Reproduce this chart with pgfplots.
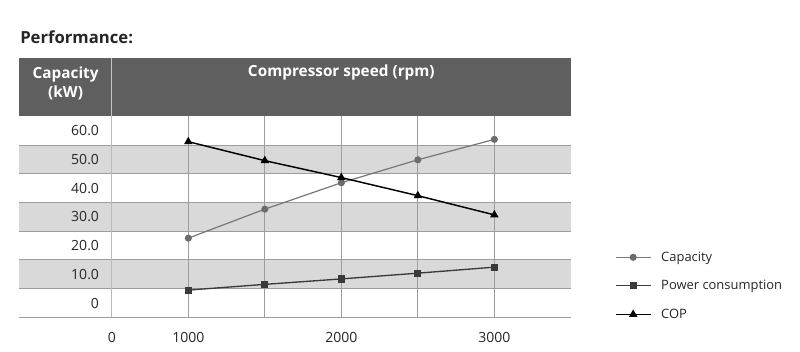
\documentclass[border=0pt]{standalone}
\usepackage{pgfplots}
\pgfplotsset{compat=1.18}
\usepackage{fontspec}
\setmainfont{Open Sans}
\definecolor{hdr}{HTML}{5F5F5F}
\definecolor{band}{HTML}{D9D9D9}
\definecolor{gridc}{HTML}{9D9D9D}
\definecolor{capc}{HTML}{777777}
\definecolor{capm}{HTML}{6C6C6C}
\definecolor{pwrc}{HTML}{3A3A3A}
\begin{document}
\begin{tikzpicture}
\begin{axis}[
  set layers=standard,
  x=0.11475pt, y=2.1525pt,
  xmin=-105, xmax=3500, ymin=-5, ymax=65,
  clip=false,
  axis line style={draw=none},
  major tick length=0pt,
  tick style={draw=none},
  xtick={500,1000,2000,3000},
  xticklabels={0,1000,2000,3000},
  ytick={0,10,20,30,40,50,60},
  yticklabels={0,10.0,20.0,30.0,40.0,50.0,60.0},
  tick label style={font=\fontsize{10.5}{12.6}\selectfont, text=black!85},
  xticklabel style={anchor=center, inner sep=0pt, yshift=-15pt},
  yticklabel style={anchor=east, inner sep=0pt, xshift=60pt},
  legend style={at={(1.0797,0.157)}, anchor=west, draw=none, fill=none,
    inner xsep=0pt, inner ysep=0pt, row sep=11.4pt, column sep=7.5pt,
    nodes={inner sep=0pt, text height=8pt, text depth=2pt},
    font=\fontsize{9.7}{11.6}\selectfont, text=black!85},
  legend cell align=left,
  legend image code/.code={\draw[mark repeat=2,mark phase=2,#1] plot coordinates {(0pt,0pt) (13pt,0pt) (26pt,0pt)};},
]
% bounding box 800x351 px
\path (axis cs:-230.7,-16.72) rectangle (axis cs:4997.4,105.57);
\begin{pgfonlayer}{axis background}
% bands
\fill[band] (axis cs:-105,45) rectangle (axis cs:3500,55);
\fill[band] (axis cs:-105,25) rectangle (axis cs:3500,35);
\fill[band] (axis cs:-105,5) rectangle (axis cs:3500,15);
% horizontal lines
\pgfplotsinvokeforeach{-5,5,15,25,35,45,55}{
  \draw[gridc, line width=0.75pt] (axis cs:-105,#1) -- (axis cs:3500,#1);
}
% vertical lines
\pgfplotsinvokeforeach{1000,1500,2000,2500,3000}{
  \draw[gridc, line width=0.75pt] (axis cs:#1,-5) -- (axis cs:#1,65);
}
\draw[gridc!70, line width=0.9pt] (axis cs:500,-5) -- (axis cs:500,65);
% header
\fill[hdr] (axis cs:-105,65) rectangle (axis cs:3500,85.26);
\draw[gridc!60!white, line width=0.9pt] (axis cs:500,65) -- (axis cs:500,85.26);
\end{pgfonlayer}
\node[anchor=center, text=white, font=\bfseries\fontsize{11.5}{14.5}\selectfont, align=center] at (axis cs:198,76.6) {Capacity\\(kW)};
\node[anchor=center, text=white, font=\bfseries\fontsize{11.5}{14}\selectfont] at (axis cs:2000,80.2) {Compressor speed (rpm)};
\node[anchor=west, inner sep=0pt, text=black!85, font=\bfseries\fontsize{12.5}{15}\selectfont] at (axis cs:-100,92.7) {Performance:};
% data
\addplot[capc, line width=0.9pt, mark=*, mark size=2.2pt, mark options={fill=capm, draw=capm}]
  coordinates {(1000,22.6) (1500,32.7) (2000,41.9) (2500,49.9) (3000,57.0)};
\addlegendentry{Capacity}
\addplot[pwrc, line width=1pt, mark=square*, mark size=2.2pt, mark options={fill=pwrc, draw=pwrc}]
  coordinates {(1000,4.5) (1500,6.5) (2000,8.4) (2500,10.4) (3000,12.5)};
\addlegendentry{Power consumption}
\addplot[black, line width=1.1pt, mark=triangle*, mark size=2.6pt, mark options={fill=black, draw=black}]
  coordinates {(1000,56.2) (1500,49.6) (2000,43.7) (2500,37.4) (3000,30.7)};
\addlegendentry{COP}
\end{axis}
\end{tikzpicture}
\end{document}
